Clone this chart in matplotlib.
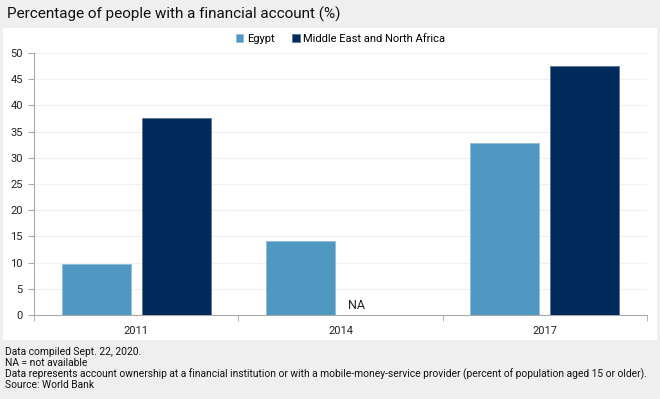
import matplotlib
matplotlib.use('Agg')
import matplotlib.pyplot as plt
import numpy as np
from matplotlib.patches import Rectangle

plt.rcParams['font.family'] = ['Roboto', 'DejaVu Sans']

years = ['2011', '2014', '2017']
egypt = [9.7, 14.1, 32.8]
mena = [37.6, None, 47.5]
series_names = ['Egypt', 'Middle East and North Africa']
colors = ['#4f98c2', '#002b5c']
title = 'Percentage of people with a financial account (%)'
notes = [
    'Data compiled Sept. 22, 2020.',
    'NA = not available',
    'Data represents account ownership at a financial institution or with a mobile-money-service provider (percent of population aged 15 or older).',
    'Source: World Bank',
]

fig = plt.figure(figsize=(6.6, 3.99), dpi=100)
fig.patch.set_facecolor('#efefef')

# white panel behind the chart
panel = Rectangle((3 / 660, 1 - 340 / 399), 654 / 660, 312 / 399,
                  transform=fig.transFigure, facecolor='white',
                  edgecolor='none', zorder=-5)
fig.add_artist(panel)

fig.text(7 / 660, 1 - 14 / 399, title, va='center', ha='left',
         color='#111111', fontsize=11)

ax = fig.add_axes([34 / 660, 1 - 315 / 399, 613 / 660, 262 / 399])
ax.set_facecolor('none')
ax.set_zorder(2)

x = np.arange(len(years))
w = 0.338
gap = 0.054
eg_vals = [v for v in egypt]
me_vals = [v if v is not None else 0 for v in mena]
ax.bar(x - (w + gap) / 2, eg_vals, w, color=colors[0], edgecolor='#8fbcd8',
       linewidth=0.6, label=series_names[0], zorder=3)
ax.bar(x + (w + gap) / 2, me_vals, w, color=colors[1], edgecolor='#5a7595',
       linewidth=0.6, label=series_names[1], zorder=3)

for i, v in enumerate(mena):
    if v is None:
        ax.text(x[i] + 0.08, 0.5, 'NA', ha='center', va='bottom',
                fontsize=9, color='#222222')

ax.set_xlim(-0.5, len(years) - 0.5)
ax.set_ylim(0, 50)
ax.set_yticks(np.arange(0, 51, 5))
ax.yaxis.grid(True, color='#f0f0f0', linewidth=0.8, zorder=0)
ax.set_axisbelow(True)

ax.set_xticks(x)
ax.set_xticklabels(years)
ax.set_xticks(np.arange(-0.5, len(years)), minor=True)
ax.tick_params(axis='x', which='major', length=0, pad=8, labelsize=8, colors='#222222')
ax.tick_params(axis='x', which='minor', length=4, color='#aaaaaa', direction='out')
ax.tick_params(axis='y', length=4, color='#aaaaaa', pad=4, labelsize=8, labelcolor='#222222')

for s in ['top', 'right']:
    ax.spines[s].set_visible(False)
ax.spines['left'].set_color('#aaaaaa')
ax.spines['bottom'].set_color('#aaaaaa')

leg = ax.legend(loc='center', bbox_to_anchor=(0.5, 1 + 14 / 262), ncol=2, frameon=False,
                fontsize=8, handlelength=0.7, handleheight=0.7, handletextpad=0.3,
                columnspacing=1.6)

for i, t in enumerate(notes):
    fig.text(5 / 660, 1 - (352 + 11 * i) / 399, t, fontsize=7.4, va='center',
             ha='left', color='#111111')

fig.savefig('out.png', dpi=100, facecolor=fig.get_facecolor())
